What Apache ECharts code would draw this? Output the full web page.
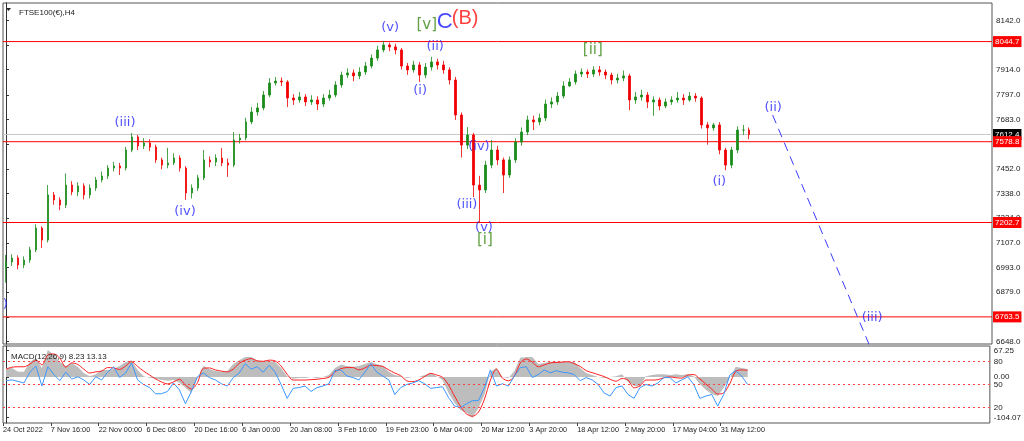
<!DOCTYPE html>
<html>
<head>
<meta charset="utf-8">
<script src="https://cdn.jsdelivr.net/npm/echarts@6/dist/echarts.min.js"></script>
<style>
html,body{margin:0;padding:0;background:#fff;}
#chart{width:1024px;height:441px;}
</style>
</head>
<body>
<div id="chart"></div>
<script>
// ---------------- DATA ----------------
const tickLabels = ['24 Oct 2022','7 Nov 16:00','22 Nov 00:00','6 Dec 08:00','20 Dec 16:00','6 Jan 00:00','20 Jan 08:00','3 Feb 16:00','19 Feb 23:00','6 Mar 04:00','20 Mar 12:00','3 Apr 20:00','18 Apr 12:00','2 May 20:00','17 May 04:00','31 May 12:00'];
const barsPerLabel = 8;
const slotCount = 165;

const firstOpen = 6990;
const closes = [7019,7038,7005,7028,7075,7177,7121,7331,7308,7284,
 7377,7345,7373,7331,7363,7401,7419,7456,7466,7456,
 7540,7601,7559,7573,7554,7494,7470,7480,7503,7456,
 7340,7363,7410,7494,7484,7503,7480,7470,7587,7596,
 7671,7717,7736,7796,7852,7861,7857,7782,7773,7787,
 7764,7773,7754,7782,7796,7843,7889,7899,7885,7903,
 7931,7968,8006,8029,8020,8006,7931,7913,7936,7889,
 7926,7950,7936,7913,7866,7703,7563,7610,7377,7354,
 7470,7540,7494,7424,7494,7577,7624,7680,7671,7689,
 7754,7764,7791,7838,7857,7894,7903,7894,7913,7903,
 7889,7866,7875,7885,7773,7787,7796,7764,7773,7745,
 7764,7773,7782,7773,7791,7782,7657,7643,7657,7540,
 7470,7540,7633,7633,7612];
const highs = [7052,7055,7050,7045,7090,7195,7185,7377,7345,7320,
 7431,7395,7390,7385,7380,7415,7440,7470,7485,7480,
 7555,7619,7610,7595,7590,7565,7505,7550,7525,7515,
 7465,7380,7425,7540,7510,7520,7549,7500,7624,7615,
 7690,7740,7760,7815,7875,7880,7878,7865,7800,7810,
 7800,7795,7790,7800,7820,7860,7905,7920,7915,7925,
 7950,7985,8025,8047,8040,8035,8015,7945,7955,7950,
 7945,7974,7965,7955,7925,7880,7715,7647,7620,7420,
 7490,7587,7560,7505,7510,7595,7645,7700,7700,7710,
 7775,7785,7810,7860,7875,7910,7920,7915,7930,7931,
 7915,7900,7895,7910,7895,7810,7820,7810,7790,7785,
 7780,7790,7810,7800,7810,7805,7790,7670,7666,7670,
 7550,7555,7650,7657,7645];
const lows = [6923,7000,6985,6990,7015,7065,7084,7110,7285,7260,
 7270,7330,7325,7310,7315,7350,7390,7405,7440,7424,
 7445,7530,7540,7545,7535,7480,7450,7455,7470,7440,
 7308,7315,7350,7400,7460,7465,7465,7415,7460,7570,
 7585,7660,7700,7725,7785,7840,7838,7740,7750,7760,
 7745,7750,7726,7740,7770,7785,7830,7875,7860,7870,
 7890,7920,7955,7995,8000,7985,7915,7890,7900,7857,
 7875,7910,7915,7895,7845,7680,7505,7545,7321,7204,
 7340,7455,7470,7340,7410,7480,7560,7610,7633,7655,
 7675,7735,7750,7780,7835,7845,7880,7875,7880,7885,
 7870,7845,7850,7860,7726,7755,7770,7735,7700,7725,
 7735,7750,7760,7750,7765,7765,7640,7565,7630,7520,
 7446,7455,7525,7610,7590];

const priceLevels = [8044.7, 7578.8, 7202.7, 6763.5];
const currentPrice = 7612.4;
const priceTicks = [8142.0, 8028.0, 7914.0, 7797.0, 7683.0, 7569.0, 7452.0, 7338.0, 7224.0, 7107.0, 6993.0, 6879.0, 6763.0, 6648.0];

// Elliott wave annotations (bar position, price)
const waveText  = ['(iii)','(iv)',')','(v)','[v]','C','(B)','(ii)','(i)','(iv)','(iii)','(v)','[i]','[ii]','(ii)','(i)','(iii)'];
const waveBar   = [19.85, 29.86, -0.1, 64.1, 70.2, 73.2, 76.6, 71.6, 69.1, 78.9, 76.9, 79.75, 79.9, 97.9, 128.0, 119.0, 144.5];
const wavePrice = [7666, 7252, 6819, 8108, 8122, 8138, 8152, 8020, 7815, 7554, 7284, 7177, 7121, 8006, 7736, 7391, 6758];
const waveDegree= ['minor','minor','minor','minor','minute','inter','primary','minor','minor','minor','minor','minor','minute','minute','minor','minor','minor'];

// projected path (ii) -> (iii)
const projBar   = [127.9, 144.3];
const projPrice = [7703, 6615];

// MACD panel
const macdMain = [23,23,13,13,38,49,23,69,56,38,
 28,36,26,10,2,7,18,18,20,28,
 38,43,18,2,-2,-5,-8,-10,-8,-15,
 -28,-41,-3,28,20,15,13,15,33,43,
 51,51,43,41,41,38,23,2,-5,-3,
 -3,0,-3,0,5,23,31,28,26,28,
 33,38,33,28,13,5,2,-3,0,0,
 5,10,2,-8,-41,-67,-85,-92,-105,-80,
 -46,13,23,0,-3,15,49,51,51,33,
 36,39,39,39,39,38,23,10,5,0,
 -3,0,2,7,-13,-23,-23,2,5,7,
 7,5,7,5,7,2,-18,-33,-44,-49,
 -28,-3,26,23,20];
const macdSignal = [20,25,26,26,33,43,31,56,59,48,
 25,36,32,20,10,13,15,24,23,19,
 28,39,27,15,5,-5,-13,-18,-13,-6,
 -21,-31,-15,22,23,18,15,13,20,35,
 43,47,41,40,43,41,28,7,-8,-8,
 -8,-7,-6,-4,-1,13,21,24,24,18,
 23,30,29,27,18,10,3,-10,-12,-8,
 1,9,5,-1,-21,-49,-76,-95,-101,-90,
 -57,-8,20,-3,-10,2,36,46,38,26,
 31,36,37,38,39,34,27,16,11,6,
 1,-6,-11,-4,-8,-28,-23,-8,-8,-7,
 -2,0,-2,-3,5,6,-5,-18,-31,-44,
 -41,-18,14,18,17];
const oscLine = [55,56,54,52,66,74,48,73,63,55,
 66,57,60,56,50,60,56,66,73,59,
 65,78,56,50,46,38,38,41,52,43,
 25,41,60,65,59,56,51,48,59,65,
 77,70,73,66,75,66,50,32,45,46,
 48,41,46,48,51,68,69,61,59,56,
 66,77,66,61,56,37,46,50,52,55,
 51,45,46,47,33,22,20,25,29,29,
 46,69,48,51,48,61,72,73,59,63,
 69,65,68,66,65,63,55,59,56,50,
 39,35,46,48,37,32,46,50,48,52,
 59,59,52,56,60,50,32,35,37,22,
 37,62,68,61,50];
const oscLevels = [80, 50, 20];
const macdTicks = [67.25, 0, -104.07];

// ---------------- BUILD ----------------
const FONT = 'Liberation Sans';
const cats = [];
for (let i = 0; i < slotCount; i++) cats.push('b' + i);
const candles = closes.map((c, i) => [i === 0 ? firstOpen : closes[i - 1], c, lows[i], highs[i]]);
const labelSlots = tickLabels.map((t, k) => k * barsPerLabel - 0.5);
const xFrom = -0.5, xTo = slotCount - 0.5;

const degreeStyle = {
  minor:   {color: '#1f1fff', fontSize: 13, fontFamily: 'DejaVu Sans'},
  minute:  {color: '#3a8a14', fontSize: 15, fontFamily: 'DejaVu Sans'},
  inter:   {color: '#1616ff', fontSize: 22, fontFamily: 'Liberation Sans'},
  primary: {color: '#ff1010', fontSize: 20, fontFamily: 'Liberation Sans'}
};
const waveData = waveText.map((t, i) => ({
  value: [waveBar[i], wavePrice[i]],
  label: Object.assign({show: true, position: 'inside', formatter: t}, degreeStyle[waveDegree[i]])
}));

function levelSeries(v, lineColor, tagBg, z) {
  return {
    type: 'line', xAxisIndex: 2, yAxisIndex: 0, symbol: 'none', silent: true, z: z,
    data: [[xFrom, v], [xTo, v]],
    lineStyle: {color: lineColor, width: 1, type: 'solid'},
    itemStyle: {color: lineColor},
    endLabel: {show: true, distance: 1, formatter: v.toFixed(1), color: '#ffffff', backgroundColor: tagBg,
               padding: [2, 2, 1, 2], fontSize: 8, fontFamily: FONT}
  };
}

const series = [];
series.push(levelSeries(currentPrice, '#c8c8c8', '#000000', 2));
priceLevels.forEach(v => series.push(levelSeries(v, '#ff0000', '#ff0000', 3)));
series.push(
  {type: 'candlestick', xAxisIndex: 0, yAxisIndex: 0, data: candles, barWidth: 2, z: 4,
   itemStyle: {color: '#1a8c1a', color0: '#f00000', borderColor: '#1a8c1a', borderColor0: '#f00000', borderWidth: 0.8}},
  {type: 'line', xAxisIndex: 2, yAxisIndex: 0, data: projBar.map((b, i) => [b, projPrice[i]]),
   symbol: 'none', clip: true, z: 5, lineStyle: {color: '#3b3bff', width: 1, type: [9, 6]}},
  {type: 'scatter', xAxisIndex: 2, yAxisIndex: 0, data: waveData, symbolSize: 0, clip: false, z: 10},
  {type: 'line', xAxisIndex: 1, yAxisIndex: 1, data: macdMain, symbol: 'none',
   lineStyle: {width: 0}, areaStyle: {color: '#bdbdbd', opacity: 1, origin: 0}},
  {type: 'line', xAxisIndex: 1, yAxisIndex: 1, data: macdSignal, symbol: 'none', smooth: 0.3,
   lineStyle: {color: '#ff2020', width: 1}},
  {type: 'line', xAxisIndex: 1, yAxisIndex: 2, data: oscLine, symbol: 'none',
   lineStyle: {color: '#3b97ff', width: 1},
   markLine: {symbol: 'none', silent: true, animation: false,
     data: oscLevels.map(v => ({yAxis: v,
       lineStyle: {color: '#ff4040', width: 1, type: [2, 3]},
       label: {show: true, position: 'end', distance: 4, formatter: String(v), color: '#222', fontSize: 8, fontFamily: FONT}}))}}
);

const chart = echarts.init(document.getElementById('chart'), null, {renderer: 'canvas'});
chart.setOption({
  animation: false,
  backgroundColor: '#ffffff',
  title: [
    {text: 'FTSE100(€),H4', left: 14, top: 4, textStyle: {fontSize: 8, fontWeight: 'normal', color: '#222', fontFamily: FONT}},
    {text: 'MACD(12,26,9) 8.23 13.13', left: 6, top: 348, textStyle: {fontSize: 8, fontWeight: 'normal', color: '#222', fontFamily: FONT}}
  ],
  graphic: [
    {type: 'polygon', shape: {points: [[6, 8], [11, 8], [8.5, 11]]}, style: {fill: '#222'}}
  ],
  grid: [
    {left: 3, right: 32, top: 3, height: 341, show: true, borderColor: '#555', borderWidth: 1, backgroundColor: '#fff'},
    {left: 3, right: 32, top: 346, height: 77, show: true, borderColor: '#555', borderWidth: 1, backgroundColor: '#fff'}
  ],
  xAxis: [
    {type: 'category', gridIndex: 0, data: cats, boundaryGap: true,
     axisLine: {show: false}, axisTick: {show: false}, axisLabel: {show: false}, splitLine: {show: false}},
    {type: 'category', gridIndex: 1, data: cats, boundaryGap: true,
     axisLine: {show: false}, axisTick: {show: false}, axisLabel: {show: false}, splitLine: {show: false}},
    {type: 'value', gridIndex: 0, min: xFrom, max: xTo, show: false},
    {type: 'value', gridIndex: 1, min: xFrom, max: xTo, position: 'bottom',
     axisLine: {show: false},
     axisTick: {show: true, customValues: labelSlots, length: 3, lineStyle: {color: '#444'}},
     axisLabel: {show: true, customValues: labelSlots, align: 'left', margin: 3, fontSize: 7.3, color: '#222', fontFamily: FONT,
                 formatter: v => tickLabels[Math.round((v + 0.5) / barsPerLabel)] || ''},
     splitLine: {show: false}}
  ],
  yAxis: [
    {type: 'value', gridIndex: 0, position: 'right', min: 6637.3, max: 8224.3,
     axisLine: {show: true, lineStyle: {color: '#333'}},
     axisTick: {show: true, customValues: priceTicks, length: 3, lineStyle: {color: '#333'}},
     axisLabel: {show: true, customValues: priceTicks, margin: 4, fontSize: 8, color: '#222', fontFamily: FONT,
                 formatter: v => v.toFixed(1)},
     splitLine: {show: false}},
    {type: 'value', gridIndex: 1, position: 'right', min: -118.2, max: 79.3,
     axisLine: {show: true, lineStyle: {color: '#333'}},
     axisTick: {show: true, customValues: macdTicks, length: 3, lineStyle: {color: '#333'}},
     axisLabel: {show: true, customValues: macdTicks, margin: 4, fontSize: 8, color: '#222', fontFamily: FONT,
                 formatter: v => v.toFixed(2)},
     splitLine: {show: false}},
    {type: 'value', gridIndex: 1, position: 'right', min: 0, max: 100, show: false}
  ],
  series: series
});
</script>
</body>
</html>
